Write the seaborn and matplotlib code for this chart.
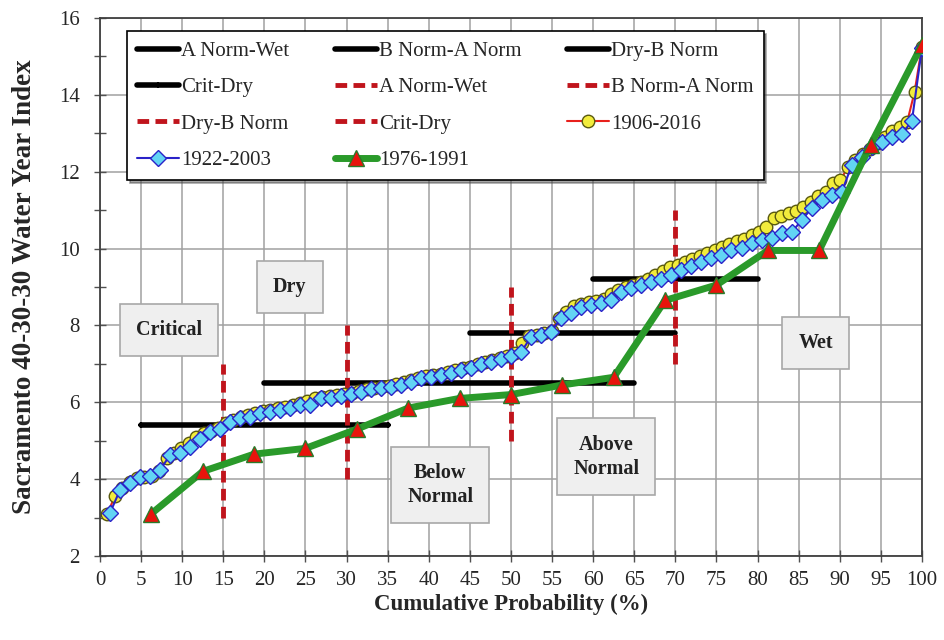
import numpy as np
import seaborn as sns
import matplotlib.pyplot as plt
from matplotlib.ticker import MultipleLocator

# threshold lines (black = index cut, red dashed = probability cut)
thr_names = ["A Norm-Wet", "B Norm-A Norm", "Dry-B Norm", "Crit-Dry"]
thr_index = [9.2, 7.8, 6.5, 5.4]
thr_prob_start = [60, 45, 20, 5]
thr_prob_end = [80, 70, 65, 35]
cut_prob = [70, 50, 30, 15]
cut_index_low = [7, 5, 4, 3]
cut_index_high = [11, 9, 8, 7]

# sorted water year index values for each period
wy_1906_2016 = [3.10, 3.55, 3.78, 3.92, 4.02, 4.06, 4.08, 4.22, 4.55, 4.68,
                4.80, 4.95, 5.10, 5.20, 5.26, 5.32, 5.45, 5.55, 5.62, 5.66,
                5.72, 5.76, 5.80, 5.84, 5.88, 5.92, 5.98, 6.02, 6.10, 6.14,
                6.16, 6.19, 6.22, 6.25, 6.28, 6.34, 6.38, 6.41, 6.43, 6.48,
                6.52, 6.58, 6.64, 6.68, 6.71, 6.74, 6.78, 6.83, 6.88, 6.93,
                7.00, 7.05, 7.09, 7.14, 7.20, 7.28, 7.55, 7.72, 7.76, 7.80,
                7.86, 8.20, 8.35, 8.50, 8.56, 8.60, 8.64, 8.70, 8.82, 8.92,
                9.00, 9.06, 9.12, 9.20, 9.30, 9.42, 9.52, 9.58, 9.65, 9.72,
                9.80, 9.88, 9.96, 10.04, 10.12, 10.20, 10.26, 10.34, 10.44, 10.55,
                10.80, 10.85, 10.92, 10.98, 11.08, 11.22, 11.36, 11.48, 11.70, 11.78,
                12.12, 12.30, 12.45, 12.60, 12.75, 12.90, 13.05, 13.16, 13.29, 14.07,
                15.25]

wy_1922_2003 = [3.12, 3.72, 3.90, 4.06, 4.08, 4.24, 4.63, 4.68, 4.84, 5.04,
                5.23, 5.30, 5.49, 5.59, 5.62, 5.72, 5.75, 5.80, 5.85, 5.92,
                5.94, 6.10, 6.12, 6.17, 6.22, 6.26, 6.34, 6.37, 6.40, 6.46,
                6.53, 6.62, 6.66, 6.71, 6.76, 6.84, 6.90, 7.00, 7.06, 7.12,
                7.20, 7.30, 7.70, 7.75, 7.83, 8.19, 8.32, 8.48, 8.53, 8.58,
                8.66, 8.87, 8.97, 9.05, 9.12, 9.22, 9.32, 9.44, 9.55, 9.65,
                9.75, 9.83, 9.96, 10.02, 10.14, 10.22, 10.28, 10.40, 10.42, 10.74,
                11.05, 11.26, 11.39, 11.47, 12.17, 12.38, 12.64, 12.77, 12.90, 12.98,
                13.32, 15.22]

wy_1976_1991 = [3.10, 4.20, 4.65, 4.80, 5.30, 5.85, 6.10, 6.20, 6.45, 6.65,
                8.65, 9.05, 9.95, 9.95, 12.70, 15.30]

# class label boxes
class_names = ["Critical", "Dry", "Below\nNormal", "Above\nNormal", "Wet"]
class_prob = [8.4, 23.1, 41.4, 61.6, 87.1]
class_index = [7.88, 9.0, 3.85, 4.58, 7.54]


def cum_prob(vals):
    # plotting position: rank / n in percent
    n = len(vals)
    return 100.0 * np.arange(1, n + 1) / n


sns.set_style("whitegrid")
plt.rcParams['font.family'] = ['Liberation Serif', 'DejaVu Serif']

fig = plt.figure(figsize=(9.45, 6.4), dpi=100)
ax = fig.add_axes([0.1058, 0.1313, 0.8698, 0.8406])

for name, yv, x0, x1 in zip(thr_names, thr_index, thr_prob_start, thr_prob_end):
    mk = '+' if name == "Crit-Dry" else None
    ax.plot([x0, x1], [yv, yv], color='black', lw=4, marker=mk, ms=5,
            mew=1.5, label=name, zorder=2)

for name, xv, y0, y1 in zip(thr_names, cut_prob, cut_index_low, cut_index_high):
    ax.plot([xv, xv], [y0, y1], color='#c0141c', lw=3.5, ls=(0, (2.4, 1.3)),
            label=name, zorder=2)

sns.lineplot(x=cum_prob(wy_1906_2016), y=wy_1906_2016, ax=ax, color='#e8201c',
             lw=1.5, marker='o', markersize=9, markerfacecolor='#f2ec3c',
             markeredgecolor='#5a5a10', markeredgewidth=1.0, label='1906-2016',
             zorder=3)
sns.lineplot(x=cum_prob(wy_1922_2003), y=wy_1922_2003, ax=ax, color='#2a22c8',
             lw=1.5, marker='D', markersize=8, markerfacecolor='#62d4f4',
             markeredgecolor='#2a22c8', markeredgewidth=1.0, label='1922-2003',
             zorder=4)
sns.lineplot(x=cum_prob(wy_1976_1991), y=wy_1976_1991, ax=ax, color='#2a9a2a',
             lw=5, marker='^', markersize=12, markerfacecolor='#e8140c',
             markeredgecolor='#2a7a2a', markeredgewidth=1.0, label='1976-1991',
             zorder=5)

for txt, xv, yv in zip(class_names, class_prob, class_index):
    ax.text(xv, yv, txt, ha='center', va='center', fontsize=14.5, fontweight='bold',
            color='#222222', linespacing=1.3, zorder=6,
            bbox=dict(boxstyle='square,pad=0.8', facecolor='#efefef',
                      edgecolor='#a8a8a8', lw=1.2))

ax.set_xlim(0, 100)
ax.set_ylim(2, 16)
ax.xaxis.set_major_locator(MultipleLocator(5))
ax.yaxis.set_major_locator(MultipleLocator(2))
ax.yaxis.set_minor_locator(MultipleLocator(1))
ax.grid(True, which='major', color='#a0a0a0', lw=1.1)
ax.grid(False, which='minor')
ax.tick_params(axis='both', which='both', direction='inout', length=9,
               width=1.0, color='#505050', labelsize=15, bottom=True, left=True)
ax.tick_params(axis='x', pad=6)
ax.tick_params(axis='y', pad=10)
for sp in ax.spines.values():
    sp.set_color('#404040')
    sp.set_linewidth(1.3)

ax.set_xlabel("Cumulative Probability (%)", fontsize=16.5, fontweight='bold', labelpad=3)
ax.set_ylabel("Sacramento 40-30-30 Water Year Index", fontsize=19.5, fontweight='bold',
              labelpad=16)

handles, labels = ax.get_legend_handles_labels()
order = [0, 3, 6, 9, 1, 4, 7, 10, 2, 5, 8]
leg = ax.legend([handles[i] for i in order], [labels[i] for i in order], ncol=3,
                loc='upper left', bbox_to_anchor=(0.02, 0.995), fontsize=15,
                frameon=True, fancybox=False, shadow=True, framealpha=1,
                edgecolor='black', handlelength=2.0, handletextpad=0.1,
                labelspacing=0.8, columnspacing=2.2, borderpad=0.5)
leg.get_frame().set_linewidth(1.2)
leg.set_zorder(10)

fig.savefig("out.png", dpi=100)
